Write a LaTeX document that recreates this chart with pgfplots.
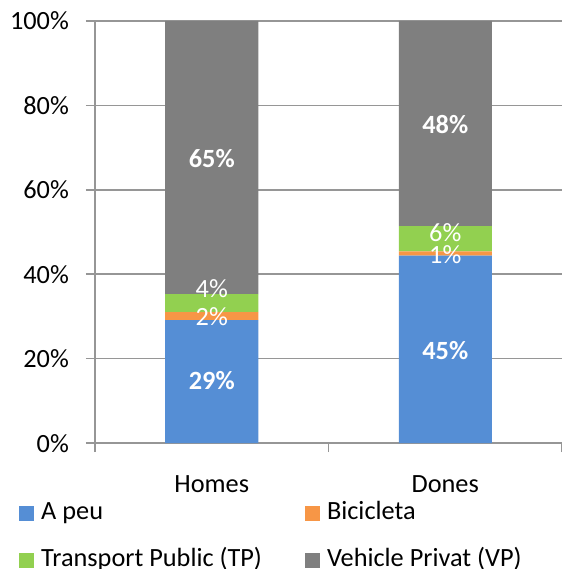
\documentclass[border=0pt]{standalone}
\usepackage{fontspec}
\setmainfont{Carlito}
\usepackage{pgfplots}
\pgfplotsset{compat=1.18}
\definecolor{cA}{HTML}{558ED5}
\definecolor{cB}{HTML}{F79646}
\definecolor{cC}{HTML}{92D050}
\definecolor{cD}{HTML}{7F7F7F}
\definecolor{gridc}{HTML}{969696}
\newcommand\f{\fontsize{26.3bp}{31bp}\selectfont}
\begin{document}
\begin{tikzpicture}
\path[use as bounding box] (-95bp,-126bp) rectangle (467bp,443bp);
\begin{axis}[
  at={(0,0)}, anchor=south west,
  scale only axis, width=467bp, height=422bp,
  ybar stacked, bar width=93bp,
  xmin=-0.5, xmax=1.5, ymin=0, ymax=100,
  axis x line*=bottom, axis y line*=left,
  axis line style={gridc, line width=1.5bp},
  ymajorgrids, grid style={gridc, line width=1.5bp},
  ytick={0,20,40,60,80,100},
  yticklabels={0\%,20\%,40\%,60\%,80\%,100\%},
  tick align=outside, major tick length=9bp,
  tick style={gridc, line width=1.5bp},
  xtick={-0.5,0.5,1.5}, xticklabels={},
  extra x ticks={0,1}, extra x tick labels={Homes,Dones},
  extra x tick style={major tick length=0pt, grid=none},
  yticklabel style={font=\f, anchor=base east, inner sep=0pt, xshift=-17bp, yshift=-9bp},
  xticklabel style={font=\f, anchor=base, inner sep=0pt, yshift=-49.7bp},
  clip=false,
  legend columns=2,
  legend cell align=left,
  legend style={at={(axis description cs:-0.16274,-0.13744)}, anchor=north west,
    draw=none, fill=none, font=\f, inner sep=0pt,
    nodes={inner sep=0pt, text height=18bp, text depth=6bp},
    /tikz/every odd column/.style={column sep=7bp},
    /tikz/every even column/.style={column sep=43bp},
    row sep=23bp},
  legend image code/.code={\fill[#1] (0bp,-7.5bp) rectangle (15bp,7.5bp);},
]
\addplot[fill=cA, draw=none] coordinates {(0,29.1) (1,44.4)};
\addlegendentry{A peu}
\addplot[fill=cB, draw=none] coordinates {(0,1.9) (1,1.0)};
\addlegendentry{Bicicleta}
\addplot[fill=cC, draw=none] coordinates {(0,4.3) (1,6.0)};
\addlegendentry{Transport Public (TP)}
\addplot[fill=cD, draw=none] coordinates {(0,64.7) (1,48.6)};
\addlegendentry{Vehicle Privat (VP)}
\coordinate (h1) at (axis cs:0,14.7);
\coordinate (h2) at (axis cs:0,29.9);
\coordinate (h3) at (axis cs:0,36.5);
\coordinate (h4) at (axis cs:0,67.3);
\coordinate (d1) at (axis cs:1,21.9);
\coordinate (d2) at (axis cs:1,44.6);
\coordinate (d3) at (axis cs:1,49.9);
\coordinate (d4) at (axis cs:1,75.4);
\end{axis}
\node[font=\f\bfseries, text=white] at (h1) {29\%};
\node[font=\f, text=white] at (h2) {2\%};
\node[font=\f, text=white] at (h3) {4\%};
\node[font=\f\bfseries, text=white] at (h4) {65\%};
\node[font=\f\bfseries, text=white] at (d1) {45\%};
\node[font=\f, text=white] at (d2) {1\%};
\node[font=\f, text=white] at (d3) {6\%};
\node[font=\f\bfseries, text=white] at (d4) {48\%};
\end{tikzpicture}
\end{document}
